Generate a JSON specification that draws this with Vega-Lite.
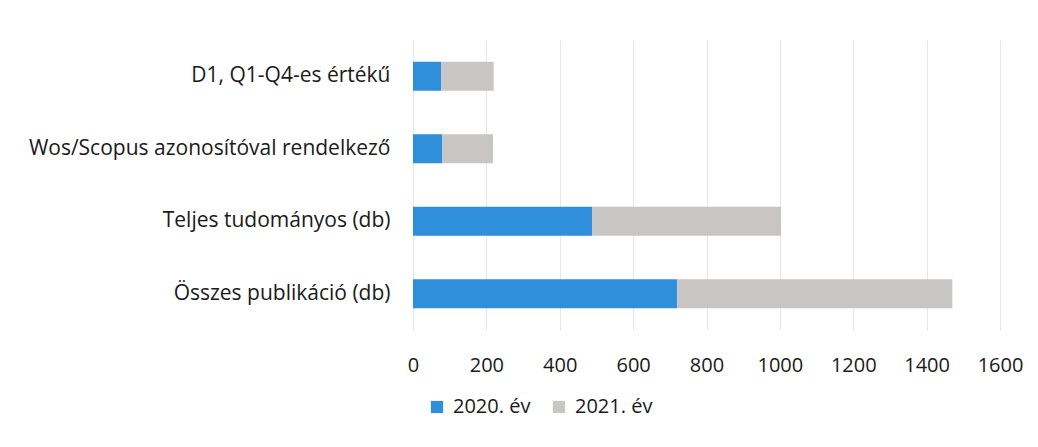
{
  "$schema": "https://vega.github.io/schema/vega-lite/v6.json",
  "width": 587,
  "height": 290,
  "autosize": {"type": "none"},
  "padding": {"left": 413, "top": 40, "right": 38, "bottom": 117},
  "background": "white",
  "config": {"view": {"stroke": null}, "font": "Open Sans"},
  "data": {
    "values": [
      {"cat": "D1, Q1-Q4-es értékű", "year": "2020. év", "v": 77},
      {"cat": "D1, Q1-Q4-es értékű", "year": "2021. év", "v": 143},
      {"cat": "Wos/Scopus azonosítóval rendelkező", "year": "2020. év", "v": 80},
      {"cat": "Wos/Scopus azonosítóval rendelkező", "year": "2021. év", "v": 138},
      {"cat": "Teljes tudományos (db)", "year": "2020. év", "v": 488},
      {"cat": "Teljes tudományos (db)", "year": "2021. év", "v": 515},
      {"cat": "Összes publikáció (db)", "year": "2020. év", "v": 720},
      {"cat": "Összes publikáció (db)", "year": "2021. év", "v": 750}
    ]
  },
  "mark": {"type": "bar"},
  "encoding": {
    "y": {
      "field": "cat", "type": "nominal", "sort": null,
      "scale": {"paddingInner": 0.6, "paddingOuter": 0.3},
      "axis": {"title": null, "domain": false, "ticks": false, "labelPadding": 23, "labelFontSize": 21, "labelColor": "#1a1a1a", "labelLimit": 500}
    },
    "x": {
      "field": "v", "type": "quantitative", "stack": "zero",
      "scale": {"domain": [0, 1600], "nice": false},
      "axis": {"title": null, "domain": false, "ticks": false, "format": "d", "values": [0,200,400,600,800,1000,1200,1400,1600], "labelPadding": 25, "labelFontSize": 20, "labelColor": "#1a1a1a", "gridColor": "#e6e6e6", "labelFlush": false}
    },
    "color": {
      "field": "year", "type": "nominal",
      "scale": {"domain": ["2020. év", "2021. év"], "range": ["#2F8FDB", "#C8C5C5"]},
      "legend": {"title": null, "orient": "none", "direction": "horizontal", "legendX": 14, "legendY": 357, "symbolType": "square", "symbolSize": 150, "symbolStrokeWidth": 0, "labelFontSize": 20, "labelColor": "#1a1a1a", "labelOffset": 6, "columnPadding": 18, "symbolOffset": 0}
    }
  }
}
